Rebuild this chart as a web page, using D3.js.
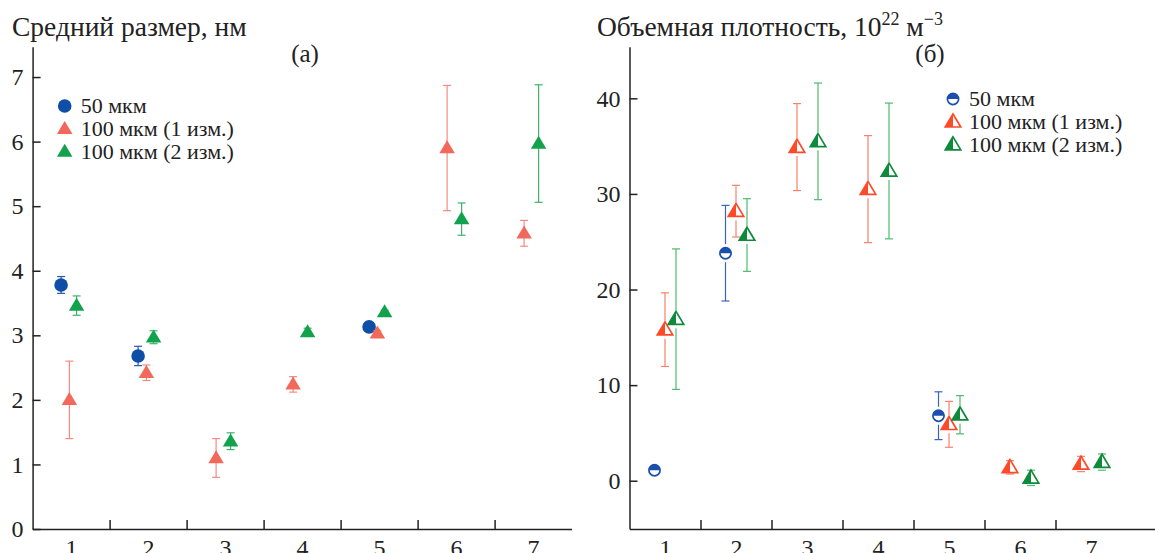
<!DOCTYPE html>
<html lang="ru">
<head>
  <meta charset="UTF-8">
  <title>Средний размер и объемная плотность</title>
  <script src="https://d3js.org/d3.v7.min.js"></script>
  <style>
    body { margin: 0; background: #fff; }
    svg text, svg .tick text { font-family: "Liberation Serif", "Times New Roman", serif; fill: #222; }
    .tick text { font-size: 24px; }
    .domain, .tick line { stroke: #222; stroke-width: 1.5; }
    .legend text { font-size: 22px; }
  </style>
</head>
<body>
<script>
  // categories on the x axis
  const categories = [1, 2, 3, 4, 5, 6, 7];
  const seriesNames = ["50 мкм", "100 мкм (1 изм.)", "100 мкм (2 изм.)"];

  // (а) mean size, nm
  const sizeBlue = [3.78, 2.68, null, null, 3.13, null, null];
  const sizeBlueErr = [0.13, 0.15, null, null, 0.05, null, null];
  const sizeRed = [2.0, 2.42, 1.1, 2.24, 3.03, 5.9, 4.58];
  const sizeRedErr = [0.6, 0.12, 0.3, 0.12, 0.04, 0.97, 0.2];
  const sizeGreen = [3.46, 2.97, 1.36, 3.05, 3.36, 4.8, 5.97];
  const sizeGreenErr = [0.15, 0.1, 0.13, 0.06, 0.03, 0.25, 0.91];
  const sizeTicks = [0, 1, 2, 3, 4, 5, 6, 7];

  // (б) volume density, 10^22 m^-3
  const densBlue = [1.1, 23.8, null, null, 6.8, null, null];
  const densBlueErr = [0.3, 5.0, null, null, 2.5, null, null];
  const densRed = [15.8, 28.2, 34.9, 30.5, 5.9, 1.4, 1.75];
  const densRedErr = [3.85, 2.7, 4.55, 5.6, 2.4, 0.7, 0.8];
  const densGreen = [16.9, 25.7, 35.5, 32.4, 6.9, 0.3, 1.95];
  const densGreenErr = [7.35, 3.8, 6.1, 7.1, 2.0, 0.8, 0.85];
  const densTicks = [0, 10, 20, 30, 40];

  const svg = d3.select("body").append("svg")
    .attr("width", 1155)
    .attr("height", 553);

  // triangle shapes (centroid near 0,0)
  const tw = 15.5, th = 13;
  const triFull = `M0,${-th * 0.6}L${-tw / 2},${th * 0.4}L${tw / 2},${th * 0.4}Z`;
  const triLeft = `M0,${-th * 0.6}L${-tw / 2},${th * 0.4}L0,${th * 0.4}Z`;
  const halfTop = r => `M${-r},0A${r},${r} 0 0 1 ${r},0Z`;

  function drawMarker(g, kind, color, hollow) {
    if (kind === "circle") {
      if (!hollow) {
        g.append("circle").attr("r", 6.8).attr("fill", color);
      } else {
        g.append("circle").attr("r", 5.6).attr("fill", "#fff").attr("stroke", color).attr("stroke-width", 1.7);
        g.append("path").attr("d", halfTop(5.6)).attr("fill", color);
      }
    } else {
      if (!hollow) {
        g.append("path").attr("d", triFull).attr("fill", color);
      } else {
        g.append("path").attr("d", triFull).attr("fill", "#fff").attr("stroke", color).attr("stroke-width", 1.7);
        g.append("path").attr("d", triLeft).attr("fill", color);
      }
    }
  }

  function panel(o) {
    const g = svg.append("g");
    const x = d3.scaleLinear().domain([0.5, o.xMax]).range([o.left, o.left + o.band * (o.xMax - 0.5)]);
    const y = d3.scaleLinear().domain(o.yDomain).range([529, 46.7]);

    // y axis, ticks pointing inside
    g.append("g")
      .attr("transform", `translate(${o.left},0)`)
      .call(d3.axisLeft(y).tickValues(o.yTicks).tickFormat(d3.format("d"))
        .tickSize(-8).tickSizeOuter(0).tickPadding(9));

    // x axis: ticks between categories
    g.append("g")
      .attr("transform", "translate(0,529)")
      .call(d3.axisBottom(x).tickValues(categories.slice(0, -1).map(c => c + 0.5))
        .tickSize(-9).tickSizeOuter(0).tickFormat(""));

    // x labels in the middle of each category
    const xl = g.append("g")
      .attr("transform", "translate(0,529)")
      .call(d3.axisBottom(x).tickValues(categories).tickFormat(d3.format("d"))
        .tickSize(0).tickPadding(10));
    xl.select(".domain").remove();

    g.selectAll(".tick text").attr("fill", "#222");

    // series
    o.series.forEach((s, si) => {
      categories.forEach((c, i) => {
        const v = s.values[i];
        if (v == null) return;
        const e = s.err[i] || 0;
        const hasBlue = o.series[0].values[i] != null;
        const off = si === 0 ? o.offBlue : si === 1 ? (hasBlue ? o.offRedWithBlue : o.offRed) : o.offGreen;
        const cx = x(c) + off, cy = y(v);
        const yt = y(v + e), yb = y(v - e);
        const gap = o.hollow ? 9 : 0;
        const bars = g.append("g").attr("stroke", s.barColor).attr("stroke-width", 1.2);
        if (e > 0) {
          if (cy - gap > yt) bars.append("line").attr("x1", cx).attr("x2", cx).attr("y1", yt).attr("y2", cy - gap);
          if (cy + gap < yb) bars.append("line").attr("x1", cx).attr("x2", cx).attr("y1", cy + gap).attr("y2", yb);
          [yt, yb].forEach(yy => bars.append("line")
            .attr("x1", cx - 4).attr("x2", cx + 4).attr("y1", yy).attr("y2", yy));
        }
        drawMarker(g.append("g").attr("transform", `translate(${cx},${cy})`), s.kind, s.color, o.hollow);
      });
    });

    // legend
    const lg = g.append("g").attr("class", "legend");
    o.series.forEach((s, si) => {
      const ly = o.legend[1] + si * 22.8;
      drawMarker(lg.append("g").attr("transform", `translate(${o.legend[0]},${ly})`), s.kind, s.color, o.hollow);
      lg.append("text").attr("x", o.legend[0] + 16).attr("y", ly + 7).text(seriesNames[si]);
    });

    // panel letter
    g.append("text").attr("x", o.letterX).attr("y", 62).attr("text-anchor", "middle")
      .style("font-size", "25px").text(o.letter);
    return g;
  }

  panel({
    left: 32.6, band: 77, xMax: 7.5,
    yDomain: [0, 7.47], yTicks: sizeTicks,
    offBlue: -10, offRedWithBlue: -1.7, offRed: -9, offGreen: 5.5,
    hollow: false,
    series: [
      { values: sizeBlue, err: sizeBlueErr, kind: "circle", color: "#0d4ea6", barColor: "#2a56b0" },
      { values: sizeRed, err: sizeRedErr, kind: "tri", color: "#f2685a", barColor: "#f48b80" },
      { values: sizeGreen, err: sizeGreenErr, kind: "tri", color: "#13a24c", barColor: "#3cb46c" }
    ],
    legend: [64.7, 106], letter: "(а)", letterX: 305
  });

  panel({
    left: 629.5, band: 71, xMax: 8.5,
    yDomain: [-5.05, 45.4], yTicks: densTicks,
    offBlue: -10.5, offRedWithBlue: 0, offRed: -10, offGreen: 11,
    hollow: true,
    series: [
      { values: densBlue, err: densBlueErr, kind: "circle", color: "#1b4fae", barColor: "#3a62c0" },
      { values: densRed, err: densRedErr, kind: "tri", color: "#ff4a2a", barColor: "#f8806c" },
      { values: densGreen, err: densGreenErr, kind: "tri", color: "#0f8a3c", barColor: "#4cbc6c" }
    ],
    legend: [953, 99], letter: "(б)", letterX: 930
  });

  // axis titles
  svg.append("text").attr("x", 12).attr("y", 36).style("font-size", "27.5px").text("Средний размер, нм");
  const t2 = svg.append("text").attr("x", 597).attr("y", 36).style("font-size", "27.5px");
  t2.append("tspan").text("Объемная плотность, 10");
  t2.append("tspan").attr("dy", -11).style("font-size", "18px").text("22");
  t2.append("tspan").attr("dy", 11).text(" м");
  t2.append("tspan").attr("dy", -11).style("font-size", "18px").text("−3");
</script>
</body>
</html>
